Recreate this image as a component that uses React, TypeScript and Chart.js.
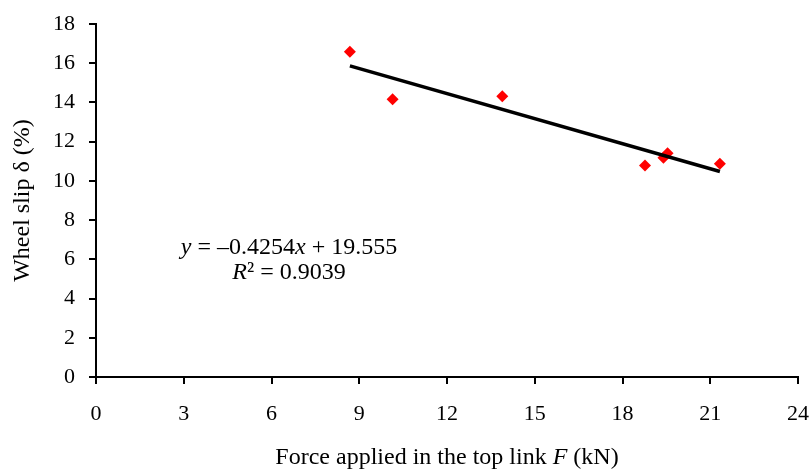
import React, { useEffect, useRef } from "react";
import { Chart, registerables } from "chart.js";

Chart.register(...registerables);

const forceKN = [8.68, 10.14, 13.89, 18.77, 19.4, 19.54, 21.33];
const wheelSlip = [16.59, 14.16, 14.31, 10.78, 11.18, 11.41, 10.88];
const trendSlope = -0.4254;
const trendIntercept = 19.555;
const rSquared = 0.9039;
const xTicks = [0, 3, 6, 9, 12, 15, 18, 21, 24];
const yTicks = [0, 2, 4, 6, 8, 10, 12, 14, 16, 18];
const xTitleParts: [string, boolean][] = [
  ["Force applied in the top link ", false],
  ["F", true],
  [" (kN)", false],
];
const yTitle = "Wheel slip \u03b4 (%)";

const FONT = "'Liberation Serif', 'Times New Roman', serif";

function drawMixed(ctx: any, segs: [string, boolean][], cx: number, cy: number, size: number) {
  let total = 0;
  segs.forEach(([t, it]) => {
    ctx.font = `${it ? "italic " : ""}${size}px ${FONT}`;
    total += ctx.measureText(t).width;
  });
  let x = cx - total / 2;
  segs.forEach(([t, it]) => {
    ctx.font = `${it ? "italic " : ""}${size}px ${FONT}`;
    ctx.fillText(t, x, cy);
    x += ctx.measureText(t).width;
  });
}

const textPlugin = {
  id: "equationText",
  afterDraw(chart: any) {
    const { ctx, scales, chartArea } = chart;
    const cx = scales.x.getPixelForValue(6.6);
    const cy = scales.y.getPixelForValue(6.6);
    const lines: [string, boolean][][] = [
      [["y", true], [" = \u20130.4254", false], ["x", true], [" + 19.555", false]],
      [["R", true], ["\u00b2 = " + rSquared.toFixed(4), false]],
    ];
    ctx.save();
    ctx.fillStyle = "#000";
    ctx.textBaseline = "middle";
    ctx.textAlign = "left";
    lines.forEach((segs, i) => drawMixed(ctx, segs, cx, cy + i * 25, 24));
    drawMixed(ctx, xTitleParts, (chartArea.left + chartArea.right) / 2, chart.height - 14, 24);
    ctx.restore();
  },
};

export default function App() {
  const ref = useRef<HTMLCanvasElement>(null);
  useEffect(() => {
    if (!ref.current) return;
    const xMin = Math.min(...forceKN);
    const xMax = Math.max(...forceKN);
    const trend = [
      { x: xMin, y: trendIntercept + trendSlope * xMin },
      { x: xMax, y: trendIntercept + trendSlope * xMax },
    ];
    const pts = forceKN.map((x, i) => ({ x, y: wheelSlip[i] }));
    const chart = new Chart(ref.current, {
      type: "scatter",
      data: {
        datasets: [
          {
            type: "line",
            data: trend,
            borderColor: "#000",
            borderWidth: 3.5,
            pointRadius: 0,
            fill: false,
          } as any,
          {
            data: pts,
            pointStyle: "rectRot",
            pointRadius: 6,
            backgroundColor: "#ff0000",
            borderColor: "#ff0000",
            borderWidth: 0,
          },
        ],
      },
      options: {
        animation: false,
        responsive: true,
        maintainAspectRatio: false,
        layout: { padding: { top: 24, right: 13, left: 0, bottom: 0 } },
        plugins: { legend: { display: false }, tooltip: { enabled: false } },
        scales: {
          x: {
            type: "linear",
            min: 0,
            max: 24,
            afterBuildTicks: (s: any) => {
              s.ticks = xTicks.map((v) => ({ value: v }));
            },
            afterFit: (s: any) => {
              s.height = 472 - 377;
              s.paddingLeft = 0;
              s.paddingRight = 0;
            },
            grid: { drawOnChartArea: false, drawTicks: true, tickLength: 7, color: "#000", lineWidth: 2 },
            border: { color: "#000", width: 2 },
            ticks: { color: "#000", font: { family: FONT, size: 22 }, padding: 17, maxRotation: 0 },
            title: { display: false },
          },
          y: {
            type: "linear",
            min: 0,
            max: 18,
            afterBuildTicks: (s: any) => {
              s.ticks = yTicks.map((v) => ({ value: v }));
            },
            afterFit: (s: any) => {
              s.width = 96;
              s.paddingTop = 0;
              s.paddingBottom = 0;
            },
            grid: { drawOnChartArea: false, drawTicks: true, tickLength: 7, color: "#000", lineWidth: 2 },
            border: { color: "#000", width: 2 },
            ticks: { color: "#000", font: { family: FONT, size: 22 }, padding: 14 },
            title: {
              display: true,
              text: yTitle,
              color: "#000",
              font: { family: FONT, size: 24 },
              padding: { top: 8, bottom: 0 },
            },
          },
        },
      },
      plugins: [textPlugin],
    });
    return () => chart.destroy();
  }, []);
  return (
    <div style={{ position: "fixed", left: 0, top: 0, width: 811, height: 472, background: "#fff" }}>
      <canvas ref={ref} />
    </div>
  );
}
